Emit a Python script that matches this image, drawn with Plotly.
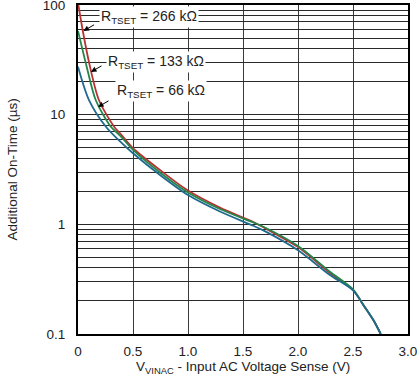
import numpy as np
import plotly.graph_objects as go

# ---- data ----
x_266 = [0.0, 0.048, 0.109, 0.19, 0.327, 0.382, 0.5, 0.745, 1.0, 1.29, 1.594, 1.685, 2.0, 2.29, 2.5, 2.594, 2.685, 2.752]
y_266 = [105, 55, 27.4, 13.6, 7.8, 6.77, 4.94, 3.13, 2.03, 1.42, 1.05, 0.94, 0.62, 0.36, 0.252, 0.184, 0.134, 0.1]

x_133 = [0.0, 0.079, 0.161, 0.297, 0.382, 0.5, 0.745, 1.0, 1.29, 1.594, 1.685, 2.0, 2.29, 2.5, 2.594, 2.685, 2.752]
y_133 = [58, 27.4, 13.6, 7.8, 6.45, 4.77, 2.97, 1.95, 1.38, 1.04, 0.95, 0.635, 0.37, 0.255, 0.184, 0.134, 0.1]

x_66 = [0.0, 0.1, 0.252, 0.382, 0.5, 0.745, 1.0, 1.29, 1.594, 1.685, 2.0, 2.29, 2.5, 2.594, 2.685, 2.752]
y_66 = [27.4, 13.6, 7.8, 5.7, 4.45, 2.82, 1.85, 1.31, 0.97, 0.88, 0.58, 0.345, 0.25, 0.184, 0.134, 0.1]

series_names = ["R<sub>TSET</sub> = 266 kΩ", "R<sub>TSET</sub> = 133 kΩ", "R<sub>TSET</sub> = 66 kΩ"]
series_colors = ["#b83232", "#23864a", "#1f6a8e"]

x_tickvals = [0, 0.5, 1.0, 1.5, 2.0, 2.5, 3.0]
x_ticktext = ["0", "0.5", "1.0", "1.5", "2.0", "2.5", "3.0"]

y_gridvals = [m * 10.0 ** e for e in (-1, 0, 1) for m in range(1, 10)] + [100]
y_labels = {0.1: "0.1", 1: "1", 10: "10", 100: "100"}
y_ticktext = [y_labels.get(round(v, 6), "") for v in y_gridvals]

x_title = "V<sub>VINAC</sub> - Input AC Voltage Sense (V)"
y_title = "Additional On-Time (µs)"

# annotation anchor values (label positions / arrow heads)
label_x = [0.19, 0.255, 0.336]
label_y = [77.8, 30.2, 16.4]
arrow_x = [0.05, 0.118, 0.182]
arrow_y = [58, 24.5, 11.75]

font_family = "Arial, Liberation Sans, sans-serif"

fig = go.Figure()
for xs, ys, name, col in zip([x_266, x_133, x_66], [y_266, y_133, y_66], series_names, series_colors):
    fig.add_trace(go.Scatter(x=xs, y=ys, mode="lines", name=name,
                             line=dict(color=col, width=1.8, shape="spline", smoothing=0.8),
                             showlegend=False, cliponaxis=True))

annotations = []
for lx, ly, ax_, ay_, txt in zip(label_x, label_y, arrow_x, arrow_y, series_names):
    annotations.append(dict(x=lx, y=np.log10(ly), xref="x", yref="y", text=txt,
                            showarrow=False, xanchor="left", yanchor="middle",
                            bgcolor="white", borderpad=1,
                            font=dict(family=font_family, size=14, color="#222")))
    annotations.append(dict(x=ax_, y=np.log10(ay_), xref="x", yref="y", text="",
                            showarrow=True, arrowhead=2, arrowsize=1.1, arrowwidth=1,
                            arrowcolor="black", ax=12, ay=-7, standoff=0))

annotations.append(dict(x=0.5, y=-0.103, xref="paper", yref="paper", text=x_title,
                        showarrow=False, xanchor="center", yanchor="middle",
                        font=dict(family=font_family, size=13.5, color="#222")))
annotations.append(dict(x=-0.2, y=0.5, xref="paper", yref="paper", text=y_title,
                        showarrow=False, xanchor="center", yanchor="middle", textangle=-90,
                        font=dict(family=font_family, size=13.5, color="#222")))

fig.update_layout(
    width=417, height=380,
    margin=dict(l=78, r=9, t=5, b=46),
    paper_bgcolor="white", plot_bgcolor="white",
    font=dict(family=font_family, size=13, color="#222"),
    annotations=annotations,
    xaxis=dict(range=[0, 3.0], tickvals=x_tickvals, ticktext=x_ticktext,
               showgrid=True, gridcolor="#3a3a3a", gridwidth=1,
               showline=True, linecolor="black", linewidth=2, mirror=True,
               ticks="", zeroline=False, automargin=False,
               ticklabeloverflow="allow", ticklabelstandoff=4,
               tickfont=dict(size=13.5, color="#222")),
    yaxis=dict(type="log", range=[-1, 2], tickvals=y_gridvals, ticktext=y_ticktext,
               showgrid=True, gridcolor="#2a2a2a", gridwidth=1,
               showline=True, linecolor="black", linewidth=2, mirror=True,
               ticks="", zeroline=False, ticklabelstandoff=8, automargin=False,
               ticklabeloverflow="allow",
               tickfont=dict(size=13.5, color="#222")),
)

fig.write_html("out.html", config={"displayModeBar": False},
               post_script="document.body.style.margin='0';document.body.style.overflow='hidden';")
